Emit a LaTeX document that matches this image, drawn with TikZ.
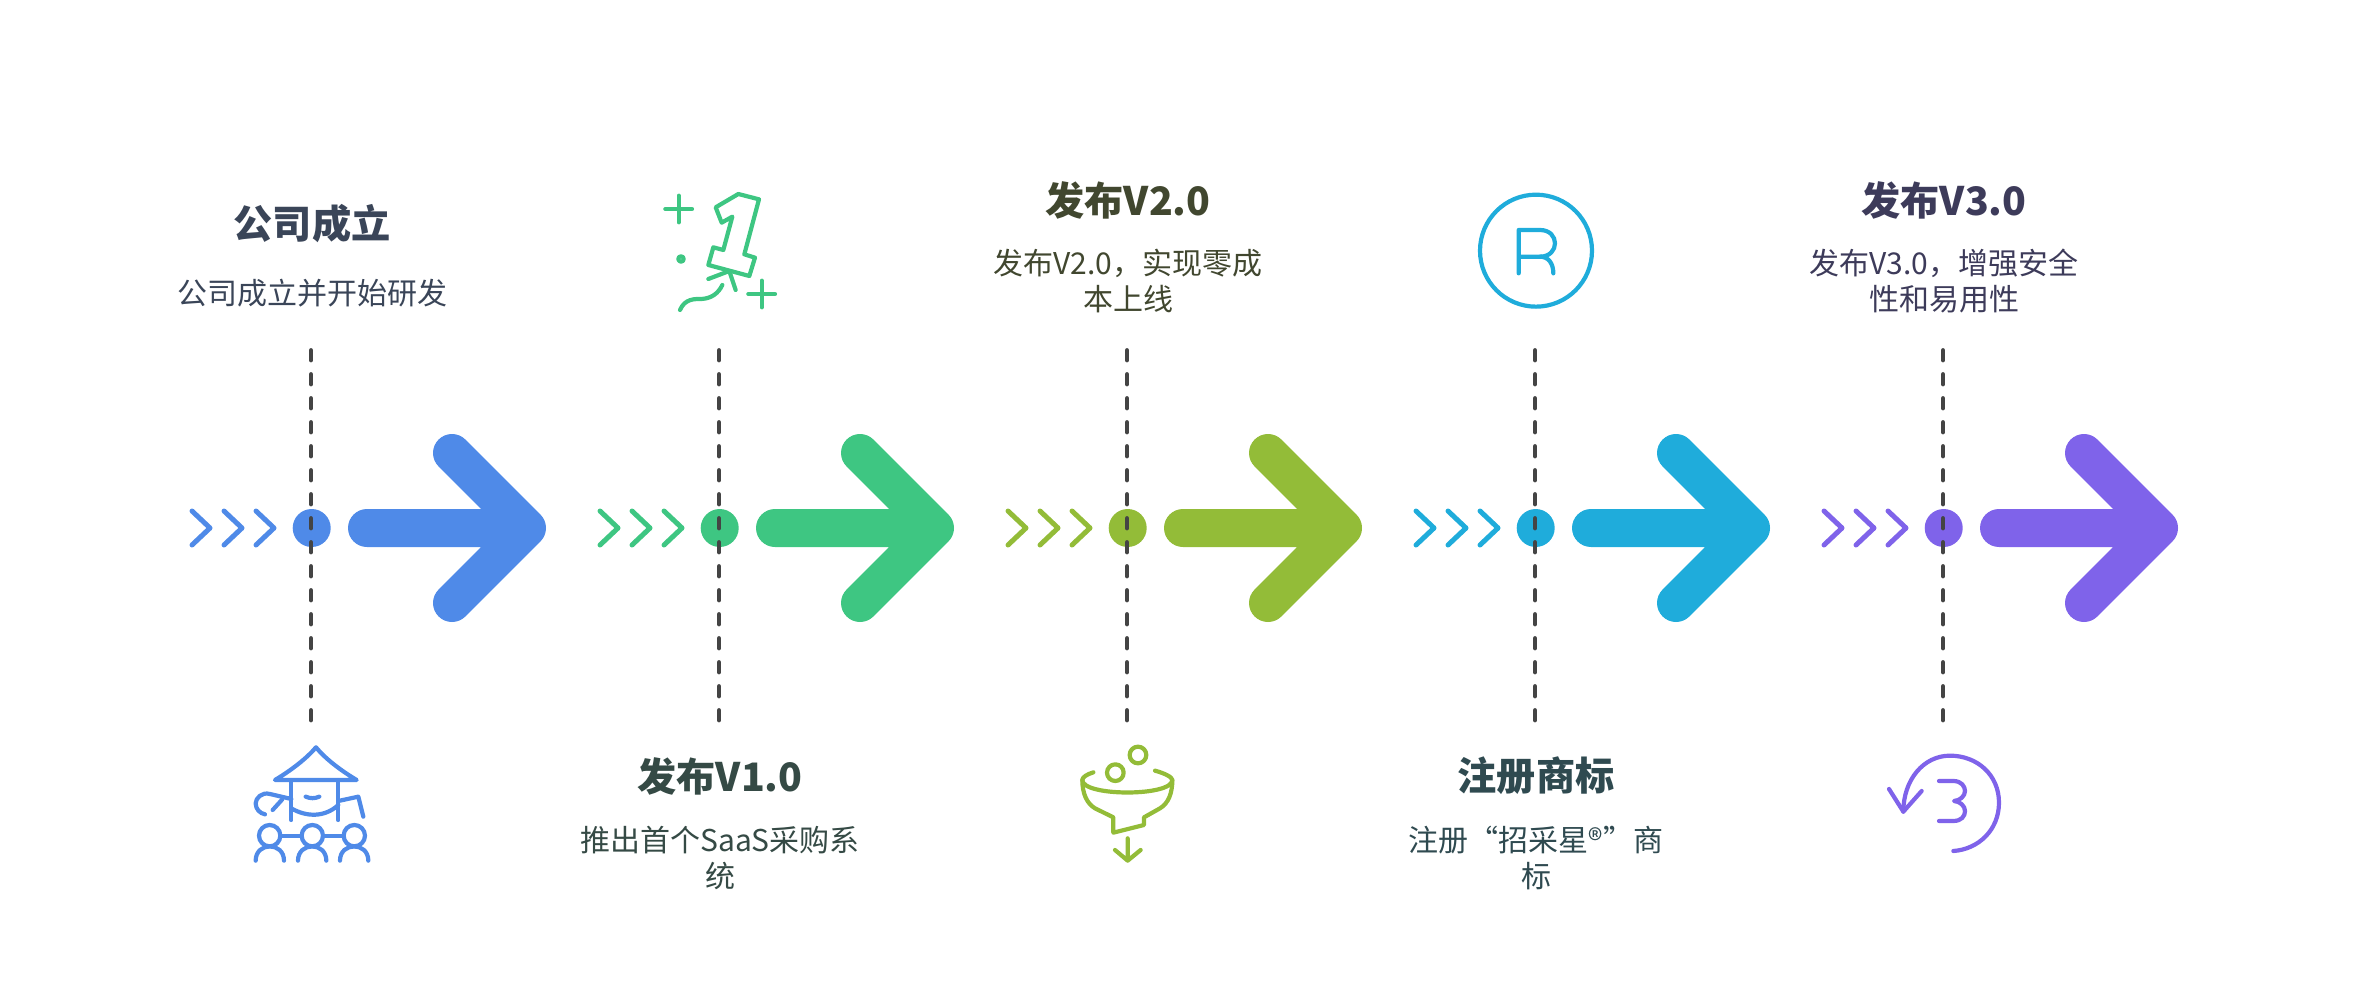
\documentclass[tikz,border=0pt]{standalone}
\usepackage{fontspec}
\setmainfont{Noto Sans CJK SC}
\definecolor{cblue}{HTML}{4F8AE8}
\definecolor{cgreen}{HTML}{3EC682}
\definecolor{colive}{HTML}{93BC38}
\definecolor{ccyan}{HTML}{1FACDB}
\definecolor{cpurple}{HTML}{7F63EA}
\definecolor{cdash}{HTML}{444444}
\definecolor{ta}{HTML}{3A4558}
\definecolor{tb}{HTML}{354A45}
\definecolor{tc}{HTML}{41472F}
\definecolor{td}{HTML}{2F4A50}
\definecolor{te}{HTML}{3D3B5A}
\tikzset{
  titletext/.style={inner sep=0pt,font=\fontsize{39.2}{44}\selectfont\bfseries},
  desctext/.style={inner sep=0pt,align=center,font=\fontsize{30}{36}\selectfont},
  dashline/.style={draw=cdash,line width=4.8pt,line cap=round,dash pattern=on 9.5pt off 14.5pt},
  chevron/.style={line width=5pt,line cap=round,line join=round},
  bigarrow/.style={line width=38pt,line cap=round,line join=round},
  hub/.style={circle,minimum size=38pt,inner sep=0pt},
  iconline/.style={line width=4.2pt,line cap=round,line join=round},
  zoomed/.style={x=0.3333pt,y=-0.3333pt,iconline}
}
% #1 x, #2 colour, #3 name
\newcommand{\stepcol}[3]{%
  \begin{scope}[shift={(#1,-528)}]
    \node[hub,fill=#2] (hub#3) at (0.7,0) {};
    \coordinate (top#3) at (0,177.5);
    \coordinate (bot#3) at (0,-193);
    \draw[dashline] (top#3) -- (bot#3);
    \draw[chevron,draw=#2] (-119,17) -- (-101,0) -- (-119,-17);
    \draw[chevron,draw=#2] (-87,17) -- (-69,0) -- (-87,-17);
    \draw[chevron,draw=#2] (-55,17) -- (-37,0) -- (-55,-17);
    \draw[bigarrow,draw=#2] (56,0) -- (216,0) (141,75) -- (216,0) -- (141,-75);
  \end{scope}}
\begin{document}
\begin{tikzpicture}[x=1pt,y=1pt]
\useasboundingbox (0,0) rectangle (2368,-984);
\stepcol{311}{cblue}{A}
\stepcol{719}{cgreen}{B}
\stepcol{1127}{colive}{C}
\stepcol{1535}{ccyan}{D}
\stepcol{1943}{cpurple}{E}
% texts
\node[titletext,text=ta] (ta1) at (312,-224) {公司成立};
\node[desctext,text=ta] (da1) at (312,-293) {公司成立并开始研发};
\node[titletext,text=tb] (tb1) at (720,-776) {发布V1.0};
\node[desctext,text=tb] (db1) at (720,-858) {推出首个SaaS采购系\\统};
\node[titletext,text=tc] (tc1) at (1128,-200) {发布V2.0};
\node[desctext,text=tc] (dc1) at (1128,-281) {发布V2.0，实现零成\\本上线};
\node[titletext,text=td] (td1) at (1536,-776) {注册商标};
\node[desctext,text=td] (dd1) at (1536,-858) {注册“招采星®”商\\标};
\node[titletext,text=te] (te1) at (1944,-200) {发布V3.0};
\node[desctext,text=te] (de1) at (1944,-281) {发布V3.0，增强安全\\性和易用性};
% icon 1
\begin{scope}[shift={(220,-720)},zoomed]
  \draw[cblue] (165,180) -- (410,180) .. controls (360,150) and (315,115) .. (288,82) .. controls (260,115) and (215,150) .. (165,180) -- cycle;
  \draw[cblue] (214,180) -- (214,300) (355,180) -- (355,300);
  \draw[cblue] (214,265) .. controls (260,292) and (315,292) .. (355,255);
  \draw[cblue] (257,230) .. controls (270,236) and (285,236) .. (298,230);
  \draw[cblue] (355,243) -- (415,230) -- (430,290);
  \draw[cblue] (214,237) -- (150,222) .. controls (125,215) and (107,235) .. (107,250) .. controls (107,268) and (120,280) .. (135,283);
  \draw[cblue] (187,238) -- (158,270);
  \draw[cblue] (149,347) circle[radius=32] (277,347) circle[radius=32] (403,347) circle[radius=32];
  \draw[cblue] (181,347) -- (245,347) (309,347) -- (371,347);
  \draw[cblue] (107,422) .. controls (107,365) and (192,365) .. (192,422);
  \draw[cblue] (234,422) .. controls (234,365) and (319,365) .. (319,422);
  \draw[cblue] (360,422) .. controls (360,365) and (445,365) .. (445,422);
\end{scope}
% icon 2
\begin{scope}[shift={(640,-170)},zoomed]
  \draw[cgreen] (76,117) -- (156,117) (116,77) -- (116,157);
  \draw[cgreen] (325,372) -- (405,372) (365,332) -- (365,412);
  \draw[cgreen] (123,267) circle[radius=8];
  \draw[cgreen] (227,112) -- (295,72) -- (357,88) -- (313,253) -- (345,263) -- (328,318) -- (205,285) -- (220,232) -- (250,240) -- (277,140) -- (245,158) -- cycle;
  \draw[cgreen] (205,327) -- (268,303) -- (287,360);
  \draw[cgreen] (120,420) .. controls (135,385) and (165,387) .. (185,387) .. controls (215,385) and (235,370) .. (247,345);
\end{scope}
% icon 3
\begin{scope}[shift={(1040,-730)},zoomed]
  \draw[colive] (226,128) circle[radius=25] (294,75) circle[radius=25];
  \draw[colive] (160,127) .. controls (140,133) and (127,142) .. (127,150) .. controls (127,200) and (397,200) .. (397,150) .. controls (397,142) and (375,130) .. (345,122);
  \draw[colive] (127,150) .. controls (127,190) and (140,220) .. (165,235) -- (220,262) -- (220,308) -- (312,285) -- (312,262) -- (360,235) .. controls (385,220) and (397,190) .. (397,150);
  \draw[colive] (263,325) -- (263,392) (225,360) -- (263,392) -- (302,360);
\end{scope}
% icon 4
\begin{scope}[shift={(1460,-200)},zoomed]
  \draw[ccyan] (228,152) circle[radius=168];
  \draw[ccyan] (176,220) -- (176,90) -- (240,90) .. controls (270,90) and (285,110) .. (285,130) .. controls (285,150) and (270,170) .. (240,170) -- (176,170);
  \draw[ccyan] (240,170) .. controls (265,170) and (280,190) .. (280,220);
\end{scope}
% icon 5
\begin{scope}[shift={(1860,-730)},zoomed]
  \draw[cpurple] (280,363) .. controls (355,358) and (417,300) .. (417,218) .. controls (417,135) and (352,77) .. (270,77) .. controls (190,77) and (130,150) .. (130,245);
  \draw[cpurple] (87,177) -- (130,245) -- (185,183);
  \draw[cpurple] (237,153) -- (280,153) .. controls (305,153) and (315,170) .. (315,183) .. controls (315,198) and (300,212) .. (282,213) .. controls (300,214) and (315,228) .. (315,243) .. controls (315,258) and (305,273) .. (280,273) -- (237,273);
\end{scope}
\end{tikzpicture}
\end{document}
